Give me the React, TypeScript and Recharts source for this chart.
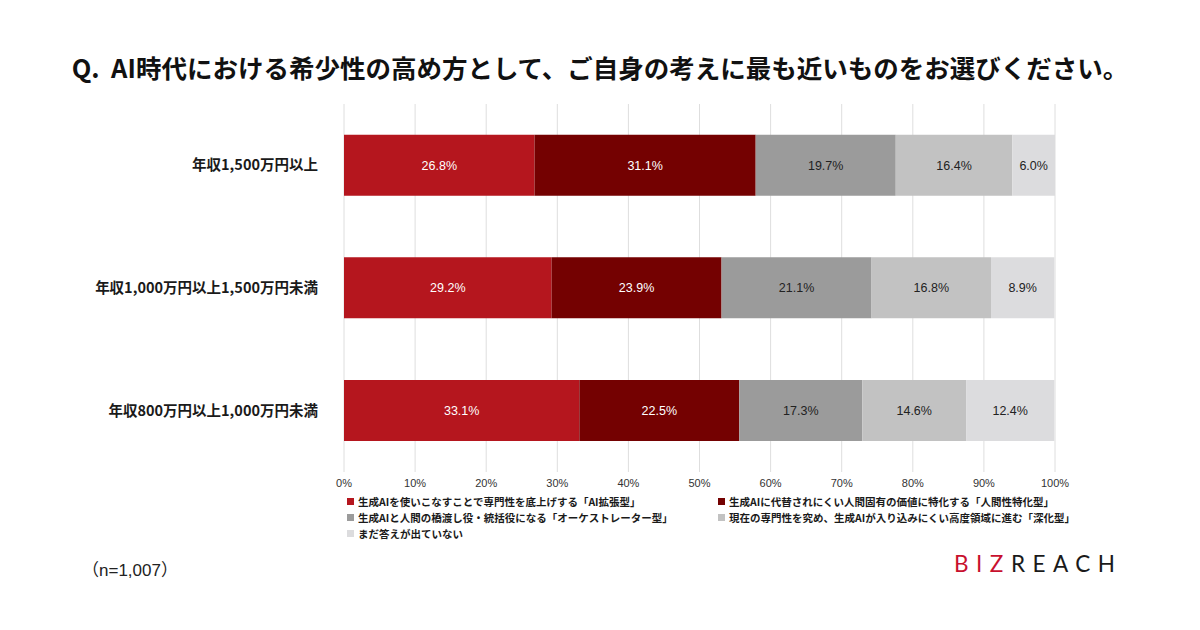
import React from 'react';
import { BarChart, Bar, XAxis, YAxis, CartesianGrid, LabelList } from 'recharts';

// Survey segments (annual income bands)
const categories = ['年収1,500万円以上', '年収1,000万円以上1,500万円未満', '年収800万円以上1,000万円未満'];

// Share of respondents (%) per answer, in the same order as categories
const aiExpansion = [26.8, 29.2, 33.1];
const humanity = [31.1, 23.9, 22.5];
const orchestrator = [19.7, 21.1, 17.3];
const deepening = [16.4, 16.8, 14.6];
const undecided = [6.0, 8.9, 12.4];

const xTicks = [0, 10, 20, 30, 40, 50, 60, 70, 80, 90, 100];

const seriesDefs = [
  { key: 'aiExpansion', name: '生成AIを使いこなすことで専門性を底上げする「AI拡張型」', color: '#B5161E', text: '#ffffff', values: aiExpansion },
  { key: 'humanity', name: '生成AIに代替されにくい人間固有の価値に特化する「人間性特化型」', color: '#740101', text: '#ffffff', values: humanity },
  { key: 'orchestrator', name: '生成AIと人間の橋渡し役・統括役になる「オーケストレーター型」', color: '#9B9B9B', text: '#222222', values: orchestrator },
  { key: 'deepening', name: '現在の専門性を究め、生成AIが入り込みにくい高度領域に進む「深化型」', color: '#C2C2C2', text: '#222222', values: deepening },
  { key: 'undecided', name: 'まだ答えが出ていない', color: '#DCDCDE', text: '#222222', values: undecided },
];

const data = categories.map((c, i) => {
  const row: Record<string, string | number> = { category: c };
  seriesDefs.forEach((s) => {
    row[s.key] = s.values[i];
  });
  return row;
});

const LegendBlock = () => (
  <div
    style={{
      position: 'absolute',
      left: 347,
      top: 494,
      display: 'grid',
      gridTemplateColumns: '371px 380px',
      rowGap: 1,
      fontSize: 10.5,
      fontWeight: 700,
      color: '#1a1a1a',
      lineHeight: '15px',
    }}
  >
    {seriesDefs.map((s) => (
      <div key={s.key} style={{ display: 'flex', alignItems: 'center', whiteSpace: 'nowrap' }}>
        <span style={{ display: 'inline-block', width: 7, height: 7, background: s.color, marginRight: 4 }} />
        <span>{s.name}</span>
      </div>
    ))}
  </div>
);

export default function App() {
  return (
    <div
      style={{
        position: 'absolute',
        left: 0,
        top: 0,
        width: 1200,
        height: 630,
        background: '#ffffff',
        fontFamily: '"Noto Sans CJK JP", "Liberation Sans", sans-serif',
        overflow: 'hidden',
      }}
    >
      <div
        style={{
          position: 'absolute',
          top: 48,
          left: 0,
          width: 1200,
          textAlign: 'center',
          fontSize: 25.5,
          fontWeight: 700,
          color: '#111111',
          lineHeight: '38px',
          whiteSpace: 'pre',
        }}
      >
        {'Q.  AI時代における希少性の高め方として、ご自身の考えに最も近いものをお選びください。'}
      </div>

      <div style={{ position: 'absolute', left: 0, top: 0 }}>
        <BarChart
          width={1200}
          height={630}
          data={data}
          layout="vertical"
          margin={{ top: 104, right: 145, bottom: 128, left: 0 }}
          barCategoryGap="25%"
        >
          <CartesianGrid horizontal={false} vertical stroke="#dedede" />
          <XAxis
            type="number"
            domain={[0, 100]}
            ticks={xTicks}
            tickFormatter={(v: number) => `${v}%`}
            axisLine={false}
            tickLine={false}
            tickSize={0}
            tickMargin={7}
            height={30}
            tick={{ fontSize: 11, fill: '#333333', fontFamily: '"Liberation Sans", Arial, sans-serif' }}
          />
          <YAxis
            type="category"
            dataKey="category"
            width={344}
            axisLine={false}
            tickLine={false}
            tickSize={0}
            tickMargin={26}
            tick={{ fontSize: 14.5, fontWeight: 700, fill: '#1a1a1a' }}
          />
          {seriesDefs.map((s) => (
            <Bar key={s.key} dataKey={s.key} name={s.name} stackId="a" fill={s.color} isAnimationActive={false}>
              <LabelList
                dataKey={s.key}
                position="center"
                formatter={(v: number) => `${Number(v).toFixed(1)}%`}
                style={{ fill: s.text, fontSize: 12.5, fontFamily: '"Liberation Sans", Arial, sans-serif' }}
              />
            </Bar>
          ))}
        </BarChart>
      </div>

      <LegendBlock />

      <div
        style={{
          position: 'absolute',
          left: 82,
          top: 556,
          fontSize: 17,
          color: '#222222',
          fontFamily: '"Liberation Sans", Arial, sans-serif',
          whiteSpace: 'nowrap',
        }}
      >
        <span style={{ fontFamily: '"Noto Sans CJK JP", sans-serif' }}>（</span>
        n=1,007
        <span style={{ fontFamily: '"Noto Sans CJK JP", sans-serif' }}>）</span>
      </div>

      <div
        style={{
          position: 'absolute',
          left: 954,
          top: 550,
          fontSize: 22.5,
          letterSpacing: 7.5,
          fontFamily: 'Lato, "Liberation Sans", sans-serif',
          fontWeight: 400,
          whiteSpace: 'nowrap',
        }}
      >
        <span style={{ color: '#C8102E' }}>BIZ</span>
        <span style={{ color: '#1a1a1a' }}>REACH</span>
      </div>
    </div>
  );
}
